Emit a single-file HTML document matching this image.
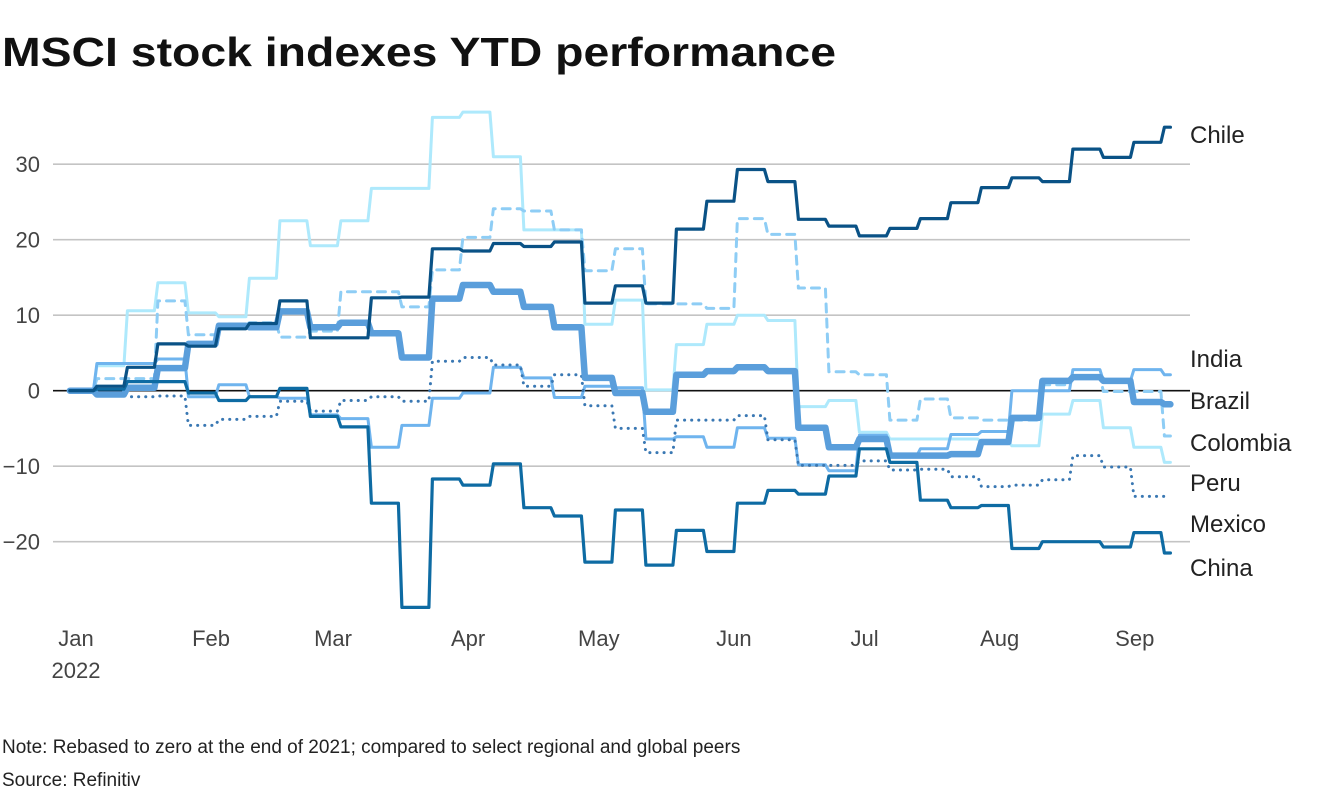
<!DOCTYPE html>
<html><head><meta charset="utf-8"><style>
html,body{margin:0;padding:0;background:#fff;width:1320px;height:800px;overflow:hidden}
svg{display:block;font-family:"Liberation Sans",sans-serif}
</style></head><body>
<svg id="chart" width="1320" height="800" viewBox="0 0 1320 800">
<text x="2" y="66" font-size="41" font-weight="bold" fill="#111" textLength="834" lengthAdjust="spacingAndGlyphs">MSCI stock indexes YTD performance</text>
<g id="grid"></g>
<g id="series"></g>
<g id="labels"></g>
<text x="2" y="753" font-size="19" fill="#222">Note: Rebased to zero at the end of 2021; compared to select regional and global peers</text>
<text x="2" y="786" font-size="19" fill="#222">Source: Refinitiv</text>
</svg>
<script>
const yTicks = [30, 20, 10, 0, -10, -20];
const monthLabels = ["Jan", "Feb", "Mar", "Apr", "May", "Jun", "Jul", "Aug", "Sep"];
const monthDays = [0, 31, 59, 90, 120, 151, 181, 212, 243];
const seriesNames = ["Colombia", "Mexico", "India", "Peru", "Brazil", "China", "Chile"];
const chile = [0,0.6,3.1,6.2,5.9,8.2,8.9,11.9,7,7,12.3,12.4,18.8,18.5,19.5,19.1,19.7,11.6,13.9,11.6,21.4,25.1,29.3,27.7,22.7,21.8,20.5,21.5,22.8,24.9,26.9,28.2,27.7,32,30.9,32.9,34.9];
const china = [0,0.2,1.2,1.2,-0.3,-1.3,-0.8,0.3,-3.4,-4.8,-14.9,-28.7,-11.7,-12.5,-9.7,-15.5,-16.6,-22.7,-15.8,-23.1,-18.5,-21.3,-14.9,-13.2,-13.7,-11.3,-7.7,-9.5,-14.5,-15.5,-15.2,-20.9,-20,-20,-20.7,-18.8,-21.5];
const colombia = [0,3.3,10.6,14.3,10.3,9.8,14.9,22.5,19.2,22.5,26.8,26.8,36.2,36.9,31,21.3,21.3,8.8,12,0.1,6.1,8.8,10,9.3,-2.1,-1.3,-5.5,-6.4,-6.4,-6.4,-6.8,-7.3,-3.1,-1.3,-4.9,-7.5,-9.5];
const brazil = [0,-0.5,0.4,3,6.2,8.6,8.4,10.5,8.4,9,7.6,4.4,12.2,14,13.1,11.1,8.4,1.7,-0.3,-2.8,2.1,2.6,3.1,2.6,-4.9,-7.5,-6.4,-8.6,-8.6,-8.4,-6.8,-3.6,1.3,1.8,1.3,-1.5,-1.8];
const india = [0,3.6,3.6,4.2,-0.8,0.8,-0.8,-1,-3.2,-3.7,-7.5,-4.6,-1,-0.3,3.1,1.7,-0.9,0.6,0.4,-6.4,-6.1,-7.5,-4.9,-6.3,-9.8,-10.6,-5.9,-8.6,-7.7,-5.8,-5.4,0,0,2.8,1.3,2.8,2.1];
const peru = [0,-0.5,-0.8,-0.7,-4.6,-3.8,-3.4,-1.4,-2.7,-1.3,-0.8,-1.4,3.9,4.4,3.4,0.6,2.1,-2,-5,-8.2,-3.9,-3.9,-3.3,-6.5,-9.9,-9.9,-9.3,-10.5,-10.4,-11.4,-12.7,-12.5,-11.8,-8.6,-10.1,-14,-14];
const mexico = [0,1.6,1.6,11.9,7.4,8.8,9,7.1,7.9,13.1,13.1,11.1,16,20.3,24.1,23.8,21.3,15.9,18.8,11.5,11.5,10.9,22.8,20.7,13.6,2.5,2.1,-3.9,-1.1,-3.6,-3.9,-3.9,0.8,1.9,-0.1,-0.1,-6];
const labelNames = ["Chile", "India", "Brazil", "Colombia", "Peru", "Mexico", "China"];
const labelY = [135, 359, 401, 443, 483, 524, 568];

const NS = "http://www.w3.org/2000/svg";
const X0 = 76, PX_DAY = 4.357, Y0 = 390.7, PX_UNIT = 7.55;
function xScale(day){ return X0 + day * PX_DAY; }
function yScale(v){ return Y0 - v * PX_UNIT; }
function stepStartDay(k){ return k === 0 ? -1.4 : 4.8 + 7 * (k - 1); }
function mk(tag, attrs){ const e = document.createElementNS(NS, tag); for (const a in attrs) e.setAttribute(a, attrs[a]); return e; }

const grid = document.getElementById('grid');
yTicks.forEach(t => {
  const y = yScale(t);
  const ln = mk('line', {x1: 53, x2: 1190, y1: y, y2: y, stroke: t === 0 ? '#111' : '#c4c4c4', 'stroke-width': 1.6});
  
  
  grid.appendChild(ln);
  const tx = mk('text', {x: 40, y: y + 8, 'text-anchor': 'end', 'font-size': 22, fill: '#444'});
  tx.textContent = t < 0 ? '\u2212' + Math.abs(t) : String(t);
  
  
  grid.appendChild(tx);
});
monthLabels.forEach((m, i) => {
  const tx = mk('text', {x: xScale(monthDays[i]), y: 646, 'text-anchor': 'middle', 'font-size': 22, fill: '#444'});
  tx.textContent = m;
  
  
  grid.appendChild(tx);
});
const yr = mk('text', {x: xScale(0), y: 678, 'text-anchor': 'middle', 'font-size': 22, fill: '#444'});
yr.textContent = '2022';


grid.appendChild(yr);

const styles = {
  Colombia: {data: colombia, color: '#aee9fc', w: 3, dash: ''},
  Mexico: {data: mexico, color: '#8ecdf5', w: 3, dash: '8 7'},
  India: {data: india, color: '#6fb4ee', w: 3, dash: ''},
  Peru: {data: peru, color: '#3a78b3', w: 3, dash: '0.1 7'},
  Brazil: {data: brazil, color: '#5a9edb', w: 6.5, dash: ''},
  China: {data: china, color: '#0e6ba3', w: 3.2, dash: ''},
  Chile: {data: chile, color: '#0a5286', w: 3.2, dash: ''}
};
const sg = document.getElementById('series');
seriesNames.forEach(name => {
  const s = styles[name];
  const pts = [];
  const n = s.data.length;
  for (let k = 0; k < n; k++) {
    const xs = xScale(stepStartDay(k));
    const xe = k < n - 1 ? xScale(stepStartDay(k + 1)) - 3.5 : xScale(stepStartDay(k)) + 6;
    const y = yScale(s.data[k]);
    pts.push(xs.toFixed(1) + ',' + y.toFixed(1));
    pts.push(xe.toFixed(1) + ',' + y.toFixed(1));
  }
  const pl = mk('polyline', {points: pts.join(' '), fill: 'none', stroke: s.color, 'stroke-width': s.w, 'stroke-linejoin': 'round', 'stroke-linecap': 'round'});
  if (s.dash) pl.setAttribute('stroke-dasharray', s.dash);
  
  
  sg.appendChild(pl);
});

const lg = document.getElementById('labels');
labelNames.forEach((n, i) => {
  const tx = mk('text', {x: 1190, y: labelY[i] + 8, 'font-size': 24, fill: '#222'});
  tx.textContent = n;
  
  
  lg.appendChild(tx);
});
</script>
</body></html>
